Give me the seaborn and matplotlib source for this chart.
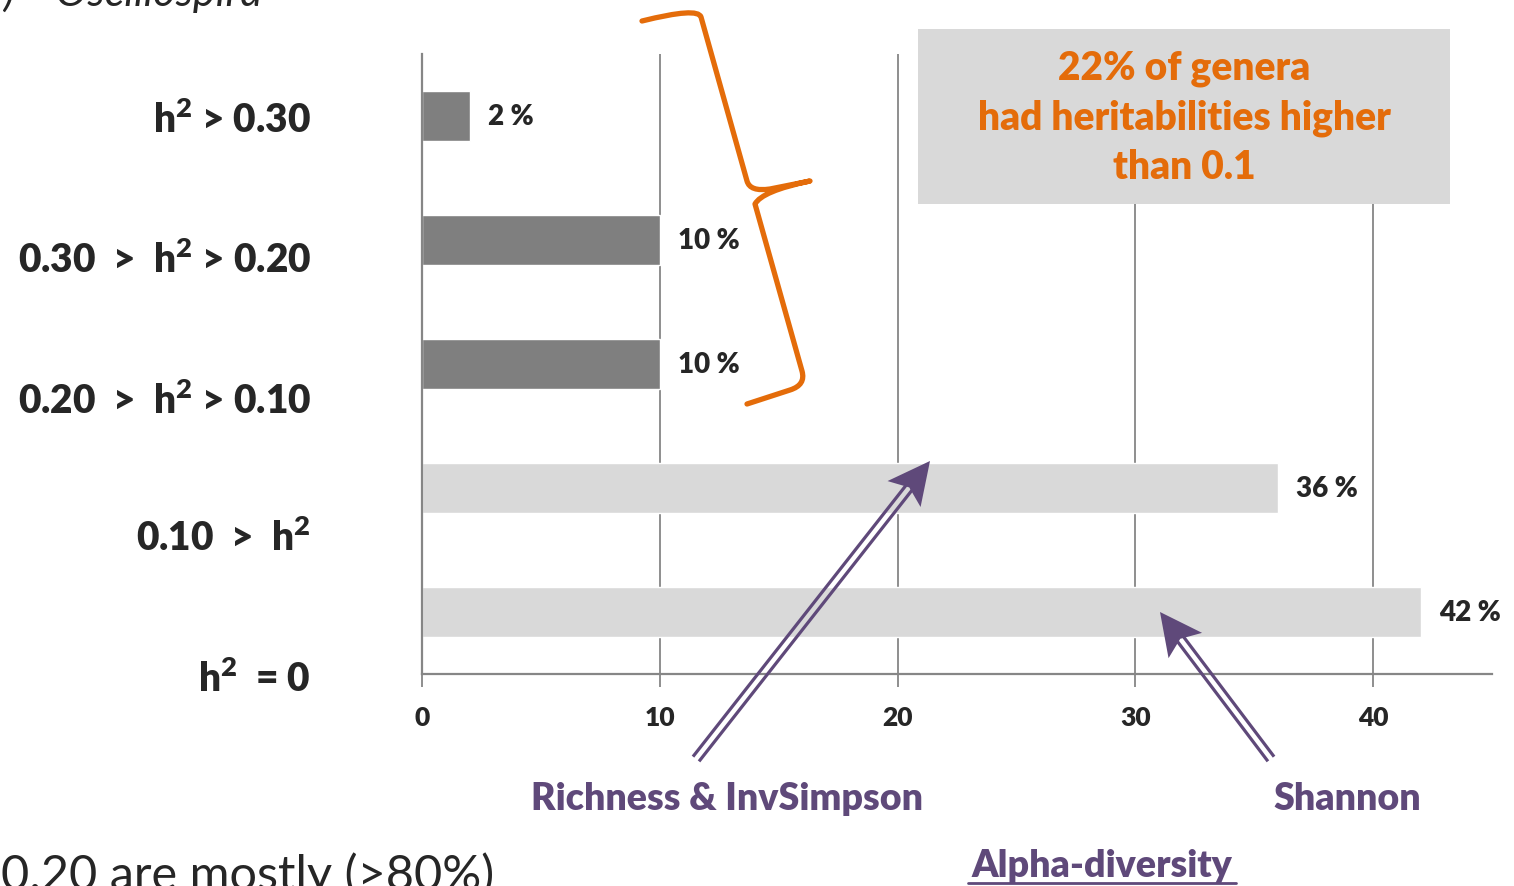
import matplotlib
matplotlib.use('Agg')
import numpy as np
import pandas as pd
import matplotlib.pyplot as plt
import seaborn as sns
from matplotlib.patches import Rectangle, PathPatch, Polygon
from matplotlib.path import Path
from matplotlib.lines import Line2D

# Data
categories = ['h$^2$ > 0.30', '0.30  >  h$^2$ > 0.20', '0.20  >  h$^2$ > 0.10', '0.10  >  h$^2$', 'h$^2$  = 0']
percent = [2, 10, 10, 36, 42]
bar_colors = ['#7F7F7F', '#7F7F7F', '#7F7F7F', '#D9D9D9', '#D9D9D9']
x_ticks = [0, 10, 20, 30, 40]

box_text = '22% of genera\nhad heritabilities higher\nthan 0.1'
arrow_labels = ['Richness & InvSimpson', 'Shannon']

ORANGE = '#E46C0A'
PURPLE = '#5F497A'
GRID = '#868686'
WEIGHT = 'heavy'

W, H = 1514, 887


# pixel -> figure fraction helpers
def fx(px):
    return px / W


def fy(py):
    return 1 - py / H


sns.set_style('white')
plt.rcParams['font.family'] = ['Lato', 'DejaVu Sans']
plt.rcParams['mathtext.fontset'] = 'custom'
plt.rcParams['mathtext.rm'] = 'Lato:heavy'
plt.rcParams['mathtext.it'] = 'Lato:heavy'
plt.rcParams['mathtext.bf'] = 'Lato:heavy'
plt.rcParams['mathtext.default'] = 'rm'

fig = plt.figure(figsize=(W / 100, H / 100), dpi=100)
ax = fig.add_axes([fx(422), fy(675), fx(1492) - fx(422), fy(55) - fy(675)])

df = pd.DataFrame({'cat': categories, 'pct': percent})
sns.barplot(data=df, x='pct', y='cat', hue='cat', palette=bar_colors, legend=False,
            width=0.4, orient='h', saturation=1, ax=ax)

ax.set_xlim(0, 45)
ax.set_ylim(4.5, -0.5)
ax.set_xlabel('')
ax.set_ylabel('')
ax.set_xticks(x_ticks)
ax.xaxis.grid(True, color=GRID, lw=1.3)
ax.set_axisbelow(True)
sns.despine(ax=ax, top=True, right=True)
for side in ['left', 'bottom']:
    ax.spines[side].set_color(GRID)
    ax.spines[side].set_linewidth(1.6)
ax.tick_params(axis='y', left=False, labelleft=False)
ax.tick_params(axis='x', bottom=True, length=9, width=1.3, color=GRID, pad=13, labelsize=19)
for lbl in ax.get_xticklabels():
    lbl.set_fontweight(WEIGHT)

# value labels
for cont in ax.containers:
    ax.bar_label(cont, labels=[f'{b.get_width():g} %' for b in cont], padding=13,
                 fontsize=20, fontweight=WEIGHT)

# category labels (offset from bars as in the original slide)
label_y = [120, 259, 401, 538, 679]
for txt, y in zip(categories, label_y):
    fig.text(fx(311), fy(y), txt, ha='right', va='center', fontsize=28, fontweight=WEIGHT)

# grey note box
fig.add_artist(Rectangle((fx(918), fy(205)), fx(1450) - fx(918), fy(30) - fy(205),
                         transform=fig.transFigure, facecolor='#D9D9D9', edgecolor='none', zorder=3))
fig.text(fx(1184), fy(118), box_text, ha='center', va='center', color=ORANGE,
         fontsize=28, fontweight=WEIGHT, linespacing=1.4, zorder=4)

# orange curly brace
brace_px = [(642, 22), (698, 8), (701, 18), (747, 182), (750, 193), (770, 190), (810, 182),
            (762, 192), (755, 205), (802, 372), (806, 386), (790, 391), (747, 405)]
codes = [Path.MOVETO, Path.CURVE3, Path.CURVE3, Path.LINETO, Path.CURVE3, Path.CURVE3,
         Path.LINETO, Path.CURVE3, Path.CURVE3, Path.LINETO, Path.CURVE3, Path.CURVE3, Path.LINETO]
brace = Path([(fx(x), fy(y)) for x, y in brace_px], codes)
fig.add_artist(PathPatch(brace, transform=fig.transFigure, facecolor='none', edgecolor=ORANGE,
                         lw=3.8, capstyle='round', joinstyle='round', zorder=5))


# purple double-line arrows
def double_arrow(tail, tip, head_len=42, head_w=42, gap=4.5, lw_px=3.2):
    tail = np.array(tail, float)
    tip = np.array(tip, float)
    u = (tip - tail) / np.linalg.norm(tip - tail)
    n = np.array([-u[1], u[0]])
    base = tip - u * head_len
    stem_end = tip - u * head_len * 0.7
    for s in (-1, 1):
        off = n * s * (gap / 2 + lw_px / 2)
        p0, p1 = tail + off, stem_end + off
        fig.add_artist(Line2D([fx(p0[0]), fx(p1[0])], [fy(p0[1]), fy(p1[1])],
                              transform=fig.transFigure, color=PURPLE, lw=lw_px * 0.72,
                              solid_capstyle='butt', zorder=5))
    head = [tip, base + n * head_w / 2, tip - u * head_len * 0.8, base - n * head_w / 2]
    fig.add_artist(Polygon([(fx(x), fy(y)) for x, y in head], closed=True,
                           transform=fig.transFigure, facecolor=PURPLE, edgecolor='none', zorder=5))


double_arrow((696, 760), (930, 462))
double_arrow((1271, 760), (1160, 613))

fig.text(fx(727), fy(799), arrow_labels[0], ha='center', va='center', color=PURPLE,
         fontsize=27, fontweight=WEIGHT)
fig.text(fx(1347), fy(799), arrow_labels[1], ha='center', va='center', color=PURPLE,
         fontsize=27, fontweight=WEIGHT)
fig.text(fx(1102), fy(866), 'Alpha-diversity', ha='center', va='center', color=PURPLE,
         fontsize=27, fontweight=WEIGHT)
fig.add_artist(Line2D([fx(968), fx(1236)], [fy(884), fy(884)], transform=fig.transFigure,
                      color=PURPLE, lw=2, zorder=5))

# slide text cut off at the edges
fig.text(fx(262), fy(6), 'b)    Oscillospira', ha='right', va='baseline', fontsize=31, style='italic')
fig.text(fx(1), fy(890), '0.20 are mostly (>80%)', ha='left', va='baseline', fontsize=35)

fig.savefig('out.png', dpi=100)
